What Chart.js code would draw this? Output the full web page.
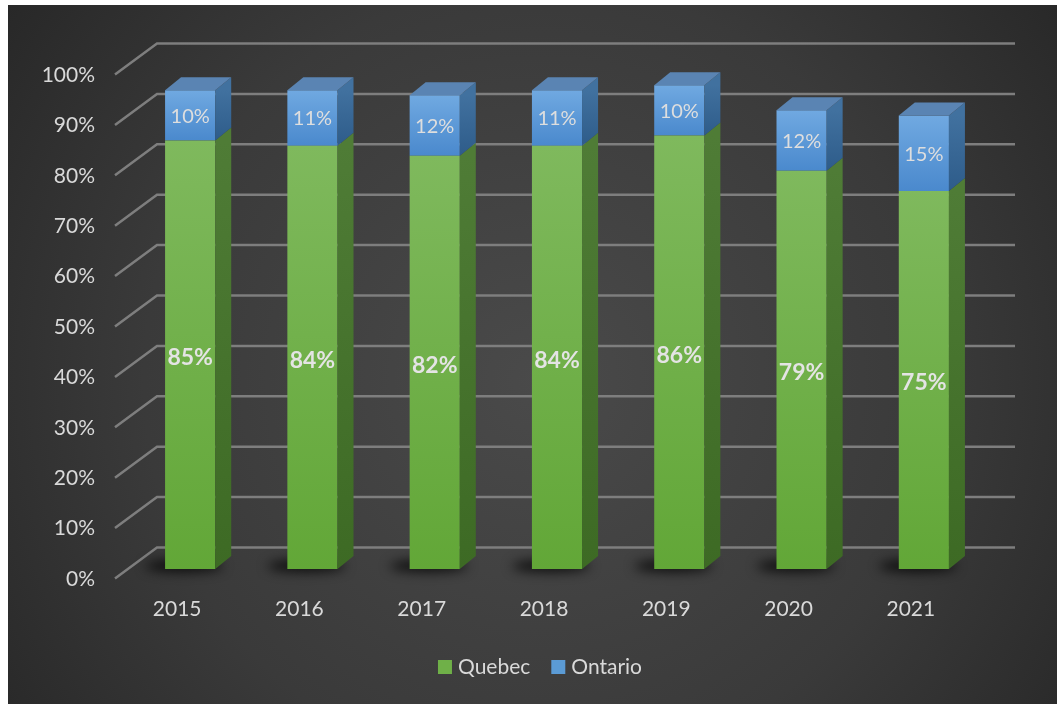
<!DOCTYPE html>
<html>
<head>
<meta charset="utf-8">
<script src="https://cdn.jsdelivr.net/npm/chart.js@4/dist/chart.umd.min.js"></script>
<style>
html,body{margin:0;padding:0;background:#fff;}
canvas{display:block;}
</style>
</head>
<body>
<canvas id="c" width="1057" height="704"></canvas>
<script>
const years = ['2015','2016','2017','2018','2019','2020','2021'];
const quebec = [85, 84, 82, 84, 86, 79, 75];
const ontario = [10, 11, 12, 11, 10, 12, 15];
const yTickValues = [0, 10, 20, 30, 40, 50, 60, 70, 80, 90, 100];
const seriesNames = ['Quebec', 'Ontario'];

const FONT = 'Lato, "Open Sans", sans-serif';
const TXT = '#d9d9d9';
const DX = 16, DY = -13;

function segGrad(ctx, di, top, bottom) {
  const chart = ctx.chart;
  const ys = chart.scales.y;
  const c = chart.ctx;
  if (!chart.chartArea || !ys) return di === 0 ? '#6fb048' : '#5b9bd5';
  const t = ys.getPixelForValue(top), b = ys.getPixelForValue(bottom);
  const g = c.createLinearGradient(0, t, 0, b);
  if (di === 0) { g.addColorStop(0, '#7fb95d'); g.addColorStop(1, '#62a737'); }
  else { g.addColorStop(0, '#70a9e1'); g.addColorStop(1, '#4a89cd'); }
  return g;
}

const deco = {
  id: 'deco',
  beforeDraw(chart) {
    const c = chart.ctx;
    c.save();
    c.fillStyle = '#ffffff';
    c.fillRect(0, 0, chart.width, chart.height);
    const g = c.createRadialGradient(540, 380, 0, 540, 380, 720);
    g.addColorStop(0, '#4a4a4a');
    g.addColorStop(0.55, '#3a3a3a');
    g.addColorStop(1, '#232323');
    c.fillStyle = g;
    c.fillRect(8, 5, chart.width - 8, chart.height - 5);
    c.restore();
  },
  beforeDatasetsDraw(chart) {
    const c = chart.ctx, ys = chart.scales.y, a = chart.chartArea;
    const fx = a.left - 14, bx = a.left + 28, rx = a.right + 30;
    c.save();
    c.strokeStyle = '#7e7e7e';
    c.lineWidth = 2.5;
    yTickValues.forEach(v => {
      const p = ys.getPixelForValue(v);
      c.beginPath();
      c.moveTo(fx, p + 9.5);
      c.lineTo(bx, p - 21.5);
      c.lineTo(rx, p - 21.5);
      c.stroke();
    });
    // soft shadows at bar bases
    const meta = chart.getDatasetMeta(0);
    meta.data.forEach(el => {
      c.save();
      c.filter = 'blur(6px)';
      c.fillStyle = 'rgba(0,0,0,0.8)';
      c.beginPath();
      c.ellipse(el.x - 6, el.base - 3, el.width / 2 + 14, 6, 0, 0, Math.PI * 2);
      c.fill();
      c.restore();
    });
    c.restore();
  },
  afterDatasetsDraw(chart) {
    const c = chart.ctx;
    const nDs = chart.data.datasets.length;
    c.save();
    for (let d = 0; d < nDs; d++) {
      const meta = chart.getDatasetMeta(d);
      meta.data.forEach(el => {
        const l = el.x - el.width / 2, r = el.x + el.width / 2;
        const t = el.y, b = el.base;
        const sg = c.createLinearGradient(0, t, 0, b);
        if (d === 0) { sg.addColorStop(0, '#4f7c36'); sg.addColorStop(1, '#3d6a24'); }
        else { sg.addColorStop(0, '#41719f'); sg.addColorStop(1, '#2e5c8a'); }
        c.fillStyle = sg;
        c.beginPath();
        c.moveTo(r, t); c.lineTo(r + DX, t + DY); c.lineTo(r + DX, b + DY); c.lineTo(r, b);
        c.closePath(); c.fill();
        if (d === nDs - 1) {
          c.fillStyle = '#5a84b3';
          c.beginPath();
          c.moveTo(l, t); c.lineTo(l + DX, t + DY); c.lineTo(r + DX, t + DY); c.lineTo(r, t);
          c.closePath(); c.fill();
        }
      });
    }
    c.textAlign = 'center';
    c.textBaseline = 'middle';
    for (let d = 0; d < nDs; d++) {
      const meta = chart.getDatasetMeta(d);
      const vals = chart.data.datasets[d].data;
      c.font = (d === 0 ? 'bold 23px ' : '20px ') + FONT;
      c.fillStyle = d === 0 ? '#e4e4e4' : '#dedede';
      meta.data.forEach((el, i) => {
        c.fillText(vals[i] + '%', el.x, (el.y + el.base) / 2 + (d === 0 ? 3 : 1));
      });
    }
    c.restore();
  },
  afterDraw(chart) {
    const c = chart.ctx, ys = chart.scales.y, xs = chart.scales.x;
    c.save();
    c.fillStyle = TXT;
    c.font = '21px ' + FONT;
    c.textBaseline = 'middle';
    c.textAlign = 'right';
    yTickValues.forEach(v => {
      c.fillText(v + '%', 95, ys.getPixelForValue(v) + 10);
    });
    c.textAlign = 'center';
    chart.data.labels.forEach((lab, i) => {
      c.fillText(lab, xs.getPixelForValue(i) - 13, 609);
    });
    const colors = ['#6fb048', '#5b9bd5'];
    const box = 14, gapBT = 6, gapItems = 21;
    const names = chart.data.datasets.map(d => d.label);
    const widths = names.map(n => c.measureText(n).width);
    let total = 0;
    widths.forEach((w, i) => { total += box + gapBT + w + (i < widths.length - 1 ? gapItems : 0); });
    let x = 540 - total / 2;
    const yl = 667;
    c.textAlign = 'left';
    names.forEach((n, i) => {
      c.fillStyle = colors[i];
      c.fillRect(x, yl - box / 2, box, box);
      x += box + gapBT;
      c.fillStyle = TXT;
      c.fillText(n, x, yl);
      x += widths[i] + gapItems;
    });
    c.restore();
  }
};

new Chart(document.getElementById('c'), {
  type: 'bar',
  data: {
    labels: years,
    datasets: [
      { label: seriesNames[0], data: quebec,
        backgroundColor: ctx => segGrad(ctx, 0, quebec[ctx.dataIndex], 0),
        borderWidth: 0, borderSkipped: false },
      { label: seriesNames[1], data: ontario,
        backgroundColor: ctx => segGrad(ctx, 1, quebec[ctx.dataIndex] + ontario[ctx.dataIndex], quebec[ctx.dataIndex]),
        borderWidth: 0, borderSkipped: false }
    ]
  },
  options: {
    responsive: false,
    animation: false,
    devicePixelRatio: 1,
    layout: { padding: { left: 129, right: 72, top: 65, bottom: 135 } },
    datasets: { bar: { categoryPercentage: 1, barPercentage: 0.41 } },
    scales: {
      x: { stacked: true, display: false, offset: true },
      y: { stacked: true, display: false, min: 0, max: 100 }
    },
    plugins: { legend: { display: false }, tooltip: { enabled: false } }
  },
  plugins: [deco]
});
</script>
</body>
</html>
